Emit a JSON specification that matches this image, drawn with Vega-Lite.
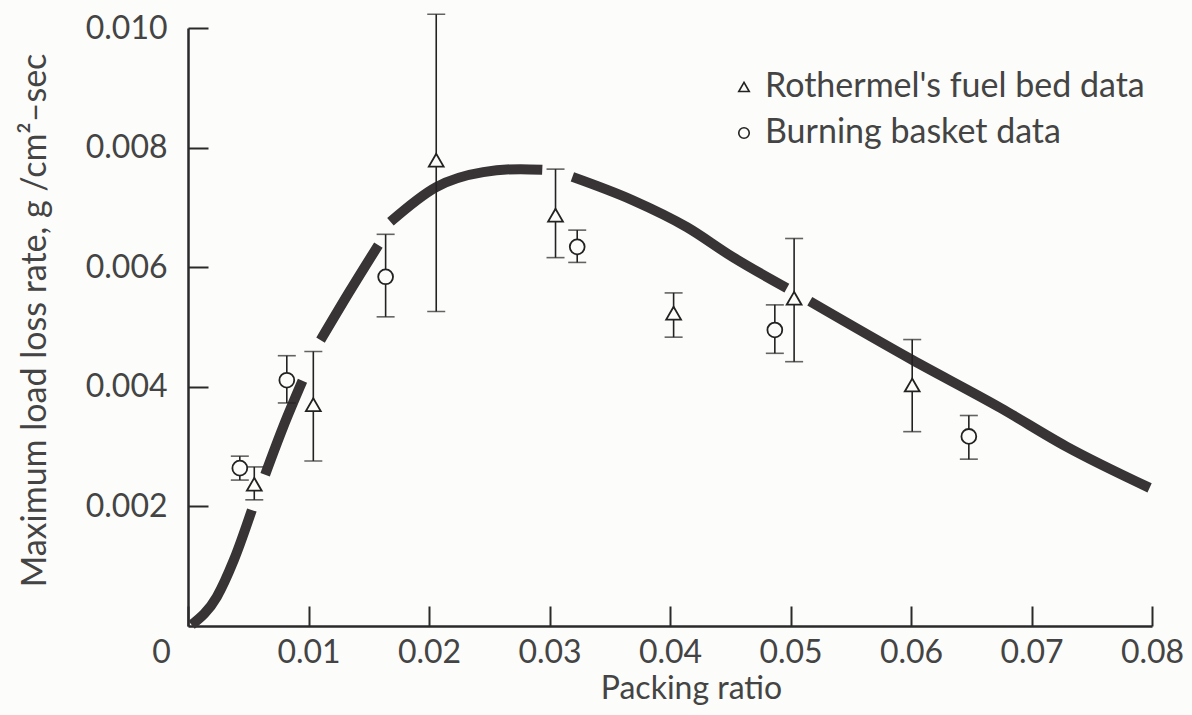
{
  "$schema": "https://vega.github.io/schema/vega-lite/v6.json",
  "width": 964,
  "height": 598,
  "autosize": {"type": "none"},
  "padding": {"left": 188, "top": 28, "right": 40, "bottom": 89},
  "background": "#fcfcfa",
  "config": {
    "view": {"stroke": null},
    "font": "Lato",
    "axis": {
      "grid": false,
      "domainColor": "#2a2a2a",
      "domainWidth": 2.5,
      "tickColor": "#2a2a2a",
      "tickWidth": 2,
      "tickSize": -20,
      "labelFont": "Lato",
      "labelFontSize": 32,
      "labelColor": "#444444",
      "labelFontWeight": "normal",
      "titleFont": "Lato",
      "titleFontSize": 33,
      "titleFontWeight": "normal",
      "titleColor": "#444444",
      "labelOverlap": false,
      "labelFlush": false
    }
  },
  "datasets": {
    "curve": [
      {"x": 0.0003, "y": 0.00002, "seg": 1},
      {"x": 0.0024, "y": 0.00049, "seg": 1},
      {"x": 0.0038, "y": 0.0011, "seg": 1},
      {"x": 0.0053, "y": 0.00194, "seg": 1},
      {"x": 0.0064, "y": 0.00253, "seg": 2},
      {"x": 0.0079, "y": 0.00333, "seg": 2},
      {"x": 0.0095, "y": 0.0041, "seg": 2},
      {"x": 0.011, "y": 0.00478, "seg": 3},
      {"x": 0.0134, "y": 0.00559, "seg": 3},
      {"x": 0.0158, "y": 0.00637, "seg": 3},
      {"x": 0.0168, "y": 0.00676, "seg": 4},
      {"x": 0.0206, "y": 0.00734, "seg": 4},
      {"x": 0.0245, "y": 0.00759, "seg": 4},
      {"x": 0.0276, "y": 0.00764, "seg": 4},
      {"x": 0.0294, "y": 0.00763, "seg": 4},
      {"x": 0.0319, "y": 0.00751, "seg": 5},
      {"x": 0.0369, "y": 0.00712, "seg": 5},
      {"x": 0.0414, "y": 0.00667, "seg": 5},
      {"x": 0.0452, "y": 0.00617, "seg": 5},
      {"x": 0.0497, "y": 0.00565, "seg": 5},
      {"x": 0.0516, "y": 0.00543, "seg": 6},
      {"x": 0.0601, "y": 0.00445, "seg": 6},
      {"x": 0.0674, "y": 0.00365, "seg": 6},
      {"x": 0.0729, "y": 0.003, "seg": 6},
      {"x": 0.0798, "y": 0.00231, "seg": 6}
    ],
    "obs": [
      {"x": 0.0043, "y": 0.00264, "lo": 0.00244, "hi": 0.00284, "source": "Burning basket data"},
      {"x": 0.0055, "y": 0.00237, "lo": 0.00211, "hi": 0.00266, "source": "Rothermel's fuel bed data"},
      {"x": 0.0082, "y": 0.00411, "lo": 0.00373, "hi": 0.00452, "source": "Burning basket data"},
      {"x": 0.0104, "y": 0.0037, "lo": 0.00276, "hi": 0.00459, "source": "Rothermel's fuel bed data"},
      {"x": 0.0164, "y": 0.00584, "lo": 0.00517, "hi": 0.00655, "source": "Burning basket data"},
      {"x": 0.0206, "y": 0.00779, "lo": 0.00526, "hi": 0.01023, "source": "Rothermel's fuel bed data"},
      {"x": 0.0305, "y": 0.00687, "lo": 0.00616, "hi": 0.00764, "source": "Rothermel's fuel bed data"},
      {"x": 0.0323, "y": 0.00634, "lo": 0.00608, "hi": 0.00662, "source": "Burning basket data"},
      {"x": 0.0403, "y": 0.00523, "lo": 0.00483, "hi": 0.00557, "source": "Rothermel's fuel bed data"},
      {"x": 0.0487, "y": 0.00495, "lo": 0.00456, "hi": 0.00537, "source": "Burning basket data"},
      {"x": 0.0503, "y": 0.00548, "lo": 0.00442, "hi": 0.00648, "source": "Rothermel's fuel bed data"},
      {"x": 0.0601, "y": 0.00403, "lo": 0.00325, "hi": 0.00479, "source": "Rothermel's fuel bed data"},
      {"x": 0.0648, "y": 0.00317, "lo": 0.00279, "hi": 0.00352, "source": "Burning basket data"}
    ]
  },
  "resolve": {"scale": {"shape": "independent"}, "legend": {"shape": "independent"}},
  "layer": [
    {
      "data": {"name": "curve"},
      "mark": {"type": "line", "interpolate": "monotone", "strokeWidth": 10, "strokeCap": "butt", "color": "#383335"},
      "encoding": {
        "x": {
          "field": "x", "type": "quantitative",
          "scale": {"domain": [0, 0.08], "nice": false},
          "axis": {
            "values": [0, 0.01, 0.02, 0.03, 0.04, 0.05, 0.06, 0.07, 0.08],
            "labelExpr": "datum.value == 0 ? '0' : format(datum.value, '.2f')",
            "labelPadding": 31,
            "labelOffset": {"condition": {"test": "datum.value == 0", "value": -27}, "value": 0},
            "title": "Packing ratio",
            "titleFontSize": 32,
            "titleX": 503,
            "titleY": 72,
            "titleBaseline": "alphabetic",
            "titleAlign": "center"
          }
        },
        "y": {
          "field": "y", "type": "quantitative",
          "scale": {"domain": [0, 0.01], "nice": false},
          "title": "Maximum load loss rate, g /cm²–sec",
          "axis": {
            "values": [0.002, 0.004, 0.006, 0.008, 0.01],
            "labelExpr": "format(datum.value, '.3f')",
            "labelPadding": 41,
            "titleFontSize": 34,
            "titleX": -143,
            "titleY": 292,
            "titleAngle": 270,
            "titleBaseline": "alphabetic",
            "titleAlign": "center"
          }
        },
        "detail": {"field": "seg", "type": "nominal"}
      }
    },
    {
      "data": {"name": "obs"},
      "mark": {"type": "errorbar", "ticks": {"size": 18, "thickness": 1.6, "color": "#222"}, "thickness": 1.6, "color": "#222"},
      "encoding": {
        "x": {"field": "x", "type": "quantitative"},
        "y": {"field": "lo", "type": "quantitative", "title": "Maximum load loss rate, g /cm²–sec"},
        "y2": {"field": "hi"}
      }
    },
    {
      "data": {"name": "obs"},
      "mark": {"type": "point", "filled": true, "color": "#fcfcfa", "opacity": 1, "size": 220},
      "encoding": {
        "x": {"field": "x", "type": "quantitative"},
        "y": {"field": "y", "type": "quantitative", "title": "Maximum load loss rate, g /cm²–sec"},
        "shape": {
          "field": "source", "type": "nominal",
          "scale": {"domain": ["Rothermel's fuel bed data", "Burning basket data"], "range": ["triangle-up", "circle"]},
          "legend": null
        }
      }
    },
    {
      "data": {"name": "obs"},
      "mark": {"type": "point", "filled": false, "color": "#222222", "strokeWidth": 1.8, "opacity": 1, "size": 220},
      "encoding": {
        "x": {"field": "x", "type": "quantitative"},
        "y": {"field": "y", "type": "quantitative", "title": "Maximum load loss rate, g /cm²–sec"},
        "shape": {
          "field": "source", "type": "nominal",
          "scale": {"domain": ["Rothermel's fuel bed data", "Burning basket data"], "range": ["triangle-up", "circle"]},
          "legend": {
            "orient": "none",
            "legendX": 539,
            "legendY": 42,
            "title": null,
            "labelFont": "Lato",
            "labelFontSize": 34,
            "labelColor": "#444444",
            "labelLimit": 800,
            "labelOffset": 4,
            "rowPadding": 12,
            "symbolSize": 110,
            "symbolStrokeColor": "#222222",
            "symbolStrokeWidth": 1.6
          }
        }
      }
    }
  ]
}
